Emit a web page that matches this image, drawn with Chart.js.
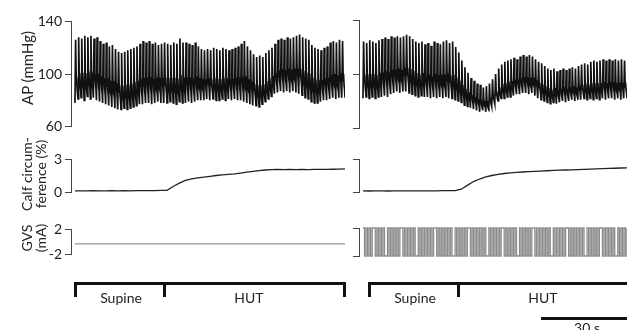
<!DOCTYPE html>
<html>
<head>
<meta charset="utf-8">
<script src="https://cdn.jsdelivr.net/npm/chart.js@4.4.1/dist/chart.umd.min.js"></script>
<style>
  body { margin: 0; background: #fff; }
  #fig { position: relative; width: 627px; height: 330px; overflow: hidden; font-family: Lato, "Open Sans", sans-serif; color: #222; }
  canvas { position: absolute; }
  .ytitle { position: absolute; transform: translate(-50%, -50%) rotate(-90deg); white-space: nowrap; text-align: center; font-size: 14px; line-height: 14px; }
  .brk { position: absolute; border-top: 3px solid #111; height: 12px; box-sizing: content-box; }
  .tick { position: absolute; width: 3px; height: 15px; background: #111; }
  .lbl { position: absolute; transform: translateX(-50%); font-size: 14px; line-height: 16px; white-space: nowrap; }
</style>
</head>
<body>
<div id="fig">
  <canvas id="apEsq" width="345" height="128" style="left:0;top:10px"></canvas>
  <canvas id="apDir" width="327" height="128" style="left:300px;top:10px"></canvas>
  <canvas id="calfEsq" width="345" height="88" style="left:0;top:129px"></canvas>
  <canvas id="calfDir" width="327" height="88" style="left:300px;top:129px"></canvas>
  <canvas id="gvsEsq" width="345" height="48" style="left:0;top:218px"></canvas>
  <canvas id="gvsDir" width="327" height="48" style="left:300px;top:218px"></canvas>

  <div class="ytitle" style="left:27px;top:68px;font-size:15px">AP (mmHg)</div>
  <div class="ytitle" style="left:34px;top:174px">Calf circum-<br>ference (%)</div>
  <div class="ytitle" style="left:34px;top:238px">GVS<br>(mA)</div>

  <div class="brk" style="left:74px;top:282px;width:266px;border-left:3px solid #111;border-right:3px solid #111"></div>
  <div class="tick" style="left:163px;top:282px"></div>
  <div class="brk" style="left:368px;top:282px;width:270px;border-left:3px solid #111"></div>
  <div class="tick" style="left:457px;top:282px"></div>

  <div class="lbl" style="left:121px;top:290px">Supine</div>
  <div class="lbl" style="left:249px;top:290px">HUT</div>
  <div class="lbl" style="left:415px;top:290px">Supine</div>
  <div class="lbl" style="left:543px;top:290px">HUT</div>

  <div style="position:absolute;left:541px;top:317px;width:90px;height:3px;background:#111"></div>
  <div class="lbl" style="left:587px;top:320px">30 s</div>
</div>

<script>
// pressão arterial batimento a batimento (mmHg), 1 batimento ~ 1 s
const apSistEsq = [126,128,127,129,128,129,127,128, 125,123,124,121,122,119, 117,116,117,118, 119,120,121,123,
    125,124,125,123,124,122,123,124, 123,122,124,123,127,124, 124,123,122,124,121,119,
    118,119,118,120,119,118,120,119,118,119,120,121, 123,125,121,118, 115,113,114,113,116,
    118,120,123,126, 127,126,128,127,128,129,130,128,127,126, 122,120,119,118,120,121, 124,125,124,126,125];
const apDiastEsq = [78,81,82,80,83,81,82,80, 79,78,77,76,75,74, 73,73,74,73, 74,75,76,77,
    77,78,78,77,78,79,78,78, 78,79,78,77,79,78, 78,79,78,79,80,80,
    80,81,80,81,80,80,81,80,81,80,81,80, 80,79,78,77, 76,76,75,77,79,
    81,83,85,86, 87,86,87,86,87,86,85,84,82,81, 79,78,78,79,80,80, 81,82,81,82,82];

const apSistDir = [124,123,125,124,123,125, 126,127,126,128,127,128,127,128, 129,128,
    126,124,123,124,122,123,121,124,123,122, 124,125,123,124, 120,116, 110,105,101,97,
    95,93,92,90, 91,93,96,100, 104,107,109,110, 111,112,111,113,114,113,114,113,
    111,109,108,106, 104,103,104,102,103,104,103,104, 105,104,106,107, 108,107,109,110,109,110,
    111,110,111,110,111,110,111,110];
const apDiastDir = [82,83,82,83,82,83, 83,84,83,85,86,87,86,87, 87,86,
    85,84,83,84,83,83,82,83,82,83, 82,83,82,82, 81,80, 79,77,76,75,
    74,73,72,73, 72,74,76,78, 80,82,82,83, 83,84,85,85,86,86,85,86,
    84,82,81,80, 79,78,79,78,79,80,79,80, 81,80,81,81, 82,81,82,81,82,81,
    82,81,82,82,81,82,81,82];

// circunferência da panturrilha (%), uma leitura a cada 2 s
const calfEsq = [0.10,0.11,0.10,0.12,0.11,0.10,0.12,0.11,0.12,0.11,0.12,0.13,0.12,0.13,0.14,
    0.15,0.50,0.80,1.05,1.20,1.28,1.35,1.42,1.50,1.55,1.60,1.65,1.72,1.80,1.88,1.95,2.00,2.03,
    2.05,2.04,2.05,2.03,2.05,2.04,2.05,2.06,2.05,2.07,2.08,2.10];
const calfDir = [0.10,0.09,0.10,0.10,0.09,0.10,0.11,0.10,0.10,0.11,0.10,0.11,0.11,0.12,0.12,0.12,
    0.25,0.60,0.95,1.18,1.37,1.50,1.60,1.68,1.73,1.78,1.82,1.85,1.88,1.90,1.93,1.96,1.98,2.00,
    2.02,2.04,2.06,2.08,2.10,2.12,2.14,2.16,2.18,2.20];

// GVS (mA): sem estímulo à esquerda, estímulo alternado à direita (estado a cada 0,5 s)
const gvsEsq = [-0.3, -0.3];
const gvsDirEstados = '10101011010101001010101011010101010010101010101101010101010010101010110101010101001010101011010101010010101010110101010101001010101011010101010100101010101101010101001010101010110101';

const ticksAP = [60, 100, 140];
const ticksCalf = [0, 3];
const ticksGVS = [-2, 2];

function montarPulso(sist, diast) {
    let pts = [];
    for (let i = 0; i < sist.length; i++) {
        let s = sist[i], d = diast[i], pp = s - d;
        pts.push({x: i, y: d});
        pts.push({x: i + 0.2, y: s});
        pts.push({x: i + 0.42, y: d + 0.3 * pp});
        pts.push({x: i + 0.52, y: d + 0.42 * pp});
        pts.push({x: i + 0.7, y: d + 0.22 * pp});
        pts.push({x: i + 0.85, y: d + 0.14 * pp});
    }
    pts.push({x: sist.length, y: diast[diast.length - 1]});
    return pts;
}

function montarSerie(valores, passo) {
    return valores.map((v, i) => ({x: i * passo, y: v}));
}

function montarGVS(estados) {
    let pts = [];
    for (let i = 0; i < estados.length; i++) {
        pts.push({x: i * 0.5, y: estados[i] === '1' ? 2 : -2});
    }
    return pts;
}

function grafico(id, dados, cor, largura, ticks, xMax, eixoLargura, comRotulos, degrau) {
    new Chart(document.getElementById(id), {
        type: 'line',
        data: {
            datasets: [{
                data: dados,
                borderColor: cor,
                borderWidth: largura,
                pointRadius: 0,
                tension: 0,
                stepped: degrau ? 'before' : false,
                clip: 2
            }]
        },
        options: {
            responsive: false,
            animation: false,
            devicePixelRatio: 1,
            layout: { padding: { top: id.startsWith('calf') ? 30 : 10, bottom: id.startsWith('calf') ? 25 : 10, left: 0, right: 0 } },
            plugins: { legend: { display: false }, tooltip: { enabled: false } },
            scales: {
                x: { type: 'linear', display: false, min: -1.3, max: xMax },
                y: {
                    min: ticks[0],
                    max: ticks[ticks.length - 1],
                    afterBuildTicks: (s) => { s.ticks = ticks.map(v => ({value: v})); },
                    afterFit: (s) => { s.width = eixoLargura; },
                    grid: { drawOnChartArea: false, drawTicks: true, tickLength: 6, color: '#444', lineWidth: 1 },
                    border: { display: true, color: '#444', width: 1 },
                    ticks: {
                        display: comRotulos,
                        padding: 3,
                        color: '#222',
                        font: { family: 'Lato', size: 14 }
                    }
                }
            }
        }
    });
}

grafico('apEsq', montarPulso(apSistEsq, apDiastEsq), '#111', 1.7, ticksAP, 88, 71, true, false);
grafico('apDir', montarPulso(apSistDir, apDiastDir), '#111', 1.7, ticksAP, 86, 59, false, false);
grafico('calfEsq', montarSerie(calfEsq, 2), '#222', 1.3, ticksCalf, 88, 71, true, false);
grafico('calfDir', montarSerie(calfDir, 2), '#222', 1.3, ticksCalf, 86, 59, false, false);
grafico('gvsEsq', [{x: 0, y: gvsEsq[0]}, {x: 88.5, y: gvsEsq[1]}], '#7a7a7a', 1, ticksGVS, 88, 71, true, false);
grafico('gvsDir', montarGVS(gvsDirEstados), '#8c8c8c', 1.3, ticksGVS, 86, 59, false, true);
</script>
</body>
</html>
